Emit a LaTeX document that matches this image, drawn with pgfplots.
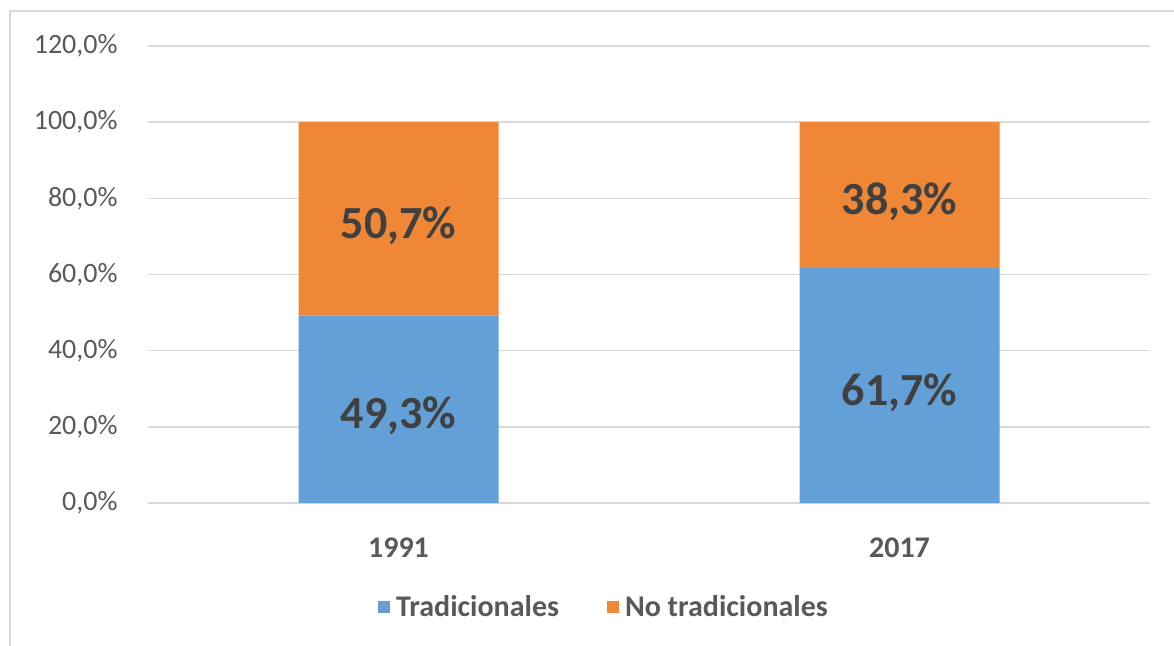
\documentclass[border=0pt]{standalone}
\usepackage{pgfplots}
\pgfplotsset{compat=1.18}
\usepackage{fontspec}
\setmainfont{Carlito}

\definecolor{trad}{RGB}{99,160,215}
\definecolor{notrad}{RGB}{239,135,55}
\definecolor{gridgray}{RGB}{217,217,217}
\definecolor{txtgray}{RGB}{89,89,89}
\definecolor{lblgray}{RGB}{64,64,64}

\begin{document}
\begin{tikzpicture}
\useasboundingbox (0pt,0pt) rectangle (587pt,322.5pt);
\fill[white] (0pt,0pt) rectangle (587pt,322.5pt);
\draw[gridgray, line width=0.6pt] (5pt,-10pt) rectangle (600pt,317pt);
\begin{axis}[
    at={(74pt,71pt)}, anchor=south west,
    scale only axis, width=501pt, height=228.5pt,
    ybar stacked, bar width=100pt,
    xmin=-0.5, xmax=1.5, ymin=0, ymax=120,
    xtick=data, xticklabels={1991,2017},
    ytick={0,20,...,120},
    ymajorgrids, grid style={gridgray, line width=0.8pt},
    axis x line*=bottom, axis y line*=left,
    axis line style={draw=none},
    major tick length=0pt,
    /pgf/number format/assume math mode=true,
    yticklabel={\pgfmathprintnumber[fixed,fixed zerofill,precision=1,use comma]{\tick}\%},
    yticklabel style={font=\fontsize{14}{15}\selectfont, text=txtgray, anchor=east, inner sep=0pt, xshift=-15pt},
    xticklabel style={font=\fontsize{15}{16}\selectfont\bfseries, text=txtgray, anchor=north, inner sep=0pt, yshift=-17pt},
    legend style={at={(0.456,-0.2276)}, anchor=center, draw=none, fill=none,
        legend columns=2, font=\fontsize{15}{16}\selectfont\bfseries, text=txtgray,
        /tikz/every even column/.append style={column sep=22pt},
        inner sep=0pt},
    legend cell align=left,
    nodes near coords,
    point meta=explicit symbolic,
    every node near coord/.append style={anchor=center, font=\fontsize{23}{25}\selectfont\bfseries,
        text=lblgray, yshift=-3.5pt},
]
\addplot[fill=trad, draw=none,
    legend image code/.code={\fill[trad] (0pt,-3pt) rectangle (6pt,3pt); \path (7pt,0pt);}]
    coordinates {(0,49.3)[49,3\%] (1,61.7)[61,7\%]};
\addlegendentry{Tradicionales}
\addplot[fill=notrad, draw=none,
    legend image code/.code={\fill[notrad] (0pt,-3pt) rectangle (6pt,3pt); \path (7pt,0pt);}]
    coordinates {(0,50.7)[50,7\%] (1,38.3)[38,3\%]};
\addlegendentry{No tradicionales}
\end{axis}
\end{tikzpicture}
\end{document}
